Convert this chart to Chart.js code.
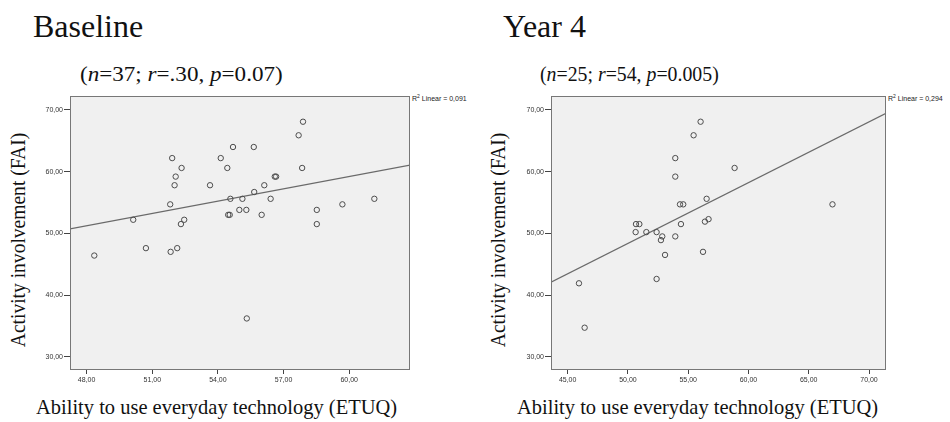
<!DOCTYPE html>
<html>
<head>
<meta charset="utf-8">
<script src="https://cdn.jsdelivr.net/npm/chart.js@4.4.0/dist/chart.umd.min.js"></script>
<style>
body{margin:0;background:#fff;width:950px;height:422px;position:relative;overflow:hidden;font-family:"Liberation Serif","Times New Roman",serif;color:#111}
.t{position:absolute;white-space:nowrap;line-height:1;transform-origin:0 0}
.big{font-size:32px}
.sub{font-size:22px}
.ax{font-size:21px;transform:scaleX(0.975)}
.rot{transform-origin:50% 50%;transform:translate(-50%,-50%) rotate(-90deg) scaleX(0.93)}
.r2{font-family:"Liberation Sans",Arial,sans-serif;font-size:7px;color:#222}
.r2 sup{font-size:5px;vertical-align:3px}
canvas{position:absolute}
</style>
</head>
<body>
<div class="t big" style="left:33px;top:10px">Baseline</div>
<div class="t big" style="left:503px;top:10px">Year 4</div>
<div class="t sub" style="left:80px;top:63px;transform:scaleX(1.05)">(<i>n</i>=37; <i>r</i>=.30, <i>p</i>=0.07)</div>
<div class="t sub" style="left:540px;top:63px;transform:scaleX(0.9)">(<i>n</i>=25; <i>r</i>=54, <i>p</i>=0.005)</div>
<div class="t ax rot" style="left:18px;top:240px">Activity involvement (FAI)</div>
<div class="t ax rot" style="left:498px;top:240px">Activity involvement (FAI)</div>
<div class="t ax" style="left:36px;top:397px">Ability to use everyday technology (ETUQ)</div>
<div class="t ax" style="left:517px;top:397px">Ability to use everyday technology (ETUQ)</div>
<div class="t r2" id="r2a" style="left:412px;top:94px"></div>
<div class="t r2" id="r2b" style="left:888px;top:94px"></div>
<canvas id="cBase" width="400" height="300" style="left:30px;top:90px"></canvas>
<canvas id="cYear4" width="400" height="300" style="left:511px;top:90px"></canvas>
<script>
// Baseline (n=37): ETUQ vs FAI
const baseX = [48.35, 50.13, 50.71, 51.84, 52.14, 51.82, 51.91, 52.34, 52.07, 52.02, 52.31, 52.46, 53.64, 54.13, 54.43, 54.69, 54.57, 54.47, 54.54, 54.98, 55.12, 55.30, 55.64, 55.66, 56.00, 56.12, 56.41, 56.60, 56.66, 57.69, 57.89, 57.85, 58.52, 58.52, 59.69, 61.15, 55.32];
const baseY = [46.4, 52.2, 47.6, 47.0, 47.6, 54.7, 62.2, 60.6, 59.2, 57.8, 51.5, 52.2, 57.8, 62.2, 60.6, 64.0, 55.6, 53.0, 53.0, 53.8, 55.6, 53.8, 64.0, 56.7, 53.0, 57.8, 55.6, 59.2, 59.2, 65.9, 68.1, 60.6, 53.8, 51.5, 54.7, 55.6, 36.2];

// Year 4 (n=25)
const y4X = [56.03, 55.45, 53.93, 53.93, 58.85, 56.53, 54.32, 54.59, 66.97, 50.67, 50.95, 54.40, 56.39, 56.69, 50.64, 51.53, 52.38, 52.85, 52.74, 53.93, 53.08, 56.23, 52.38, 45.94, 46.41];
const y4Y = [68.1, 65.9, 62.2, 59.2, 60.6, 55.6, 54.7, 54.7, 54.7, 51.5, 51.5, 51.5, 51.9, 52.3, 50.2, 50.2, 50.2, 49.5, 48.9, 49.5, 46.5, 47.0, 42.6, 41.9, 34.7];

// tick labels
const baseTicksX = [48, 51, 54, 57, 60];
const y4TicksX = [45, 50, 55, 60, 65, 70];
const ticksY = [30, 40, 50, 60, 70];
const r2Labels = ['0,091', '0,294'];

document.getElementById('r2a').innerHTML = 'R<sup>2</sup> Linear = ' + r2Labels[0];
document.getElementById('r2b').innerHTML = 'R<sup>2</sup> Linear = ' + r2Labels[1];

const fmt = v => v.toFixed(2).replace('.', ',');

// least squares fit line across the x axis
function fitLine(xs, ys, x0, x1) {
    const n = xs.length;
    const mx = xs.reduce((a, b) => a + b, 0) / n;
    const my = ys.reduce((a, b) => a + b, 0) / n;
    let sxy = 0, sxx = 0;
    for (let i = 0; i < n; i++) {
        sxy += (xs[i] - mx) * (ys[i] - my);
        sxx += (xs[i] - mx) * (xs[i] - mx);
    }
    const b = sxy / sxx;
    const a = my - b * mx;
    return [{x: x0, y: a + b * x0}, {x: x1, y: a + b * x1}];
}

const plotBox = {
    id: 'plotBox',
    beforeDraw(chart) {
        const {ctx, chartArea: a} = chart;
        ctx.save();
        ctx.fillStyle = '#f0f0f0';
        ctx.fillRect(a.left, a.top, a.width, a.height);
        ctx.restore();
    },
    afterDraw(chart) {
        const {ctx, chartArea: a} = chart;
        ctx.save();
        ctx.strokeStyle = '#777';
        ctx.lineWidth = 1;
        ctx.strokeRect(a.left + 0.5, a.top + 0.5, a.width - 1, a.height - 1);
        ctx.restore();
    }
};

function makeChart(id, xs, ys, xTicks, xMin, xMax, padRight) {
    const pts = xs.map((x, i) => ({x: x, y: ys[i]}));
    const tickFont = {family: '"Liberation Sans", Arial, sans-serif', size: 7};
    return new Chart(document.getElementById(id), {
        type: 'scatter',
        data: {
            datasets: [{
                data: pts,
                pointRadius: 2.7,
                pointBorderWidth: 1,
                pointBorderColor: '#4d4d4d',
                pointBackgroundColor: 'rgba(0,0,0,0)'
            }, {
                type: 'line',
                data: fitLine(xs, ys, xMin, xMax),
                borderColor: '#6a6a6a',
                borderWidth: 1.2,
                pointRadius: 0
            }]
        },
        options: {
            responsive: false,
            animation: false,
            devicePixelRatio: 1,
            layout: {padding: {top: 6, right: padRight, left: 0, bottom: 0}},
            plugins: {legend: {display: false}, tooltip: {enabled: false}},
            scales: {
                x: {
                    type: 'linear',
                    min: xMin,
                    max: xMax,
                    afterBuildTicks: ax => { ax.ticks = xTicks.map(v => ({value: v})); },
                    afterFit: ax => { ax.height = 20; },
                    border: {display: false},
                    grid: {drawOnChartArea: false, tickLength: 4, color: '#444'},
                    ticks: {font: tickFont, color: '#333', padding: 2, maxRotation: 0, callback: v => fmt(v)}
                },
                y: {
                    min: 27.84,
                    max: 72.27,
                    afterBuildTicks: ax => { ax.ticks = ticksY.map(v => ({value: v})); },
                    afterFit: ax => { ax.width = 40; },
                    border: {display: false},
                    grid: {drawOnChartArea: false, tickLength: 6, color: '#444'},
                    ticks: {font: tickFont, color: '#333', padding: 1, callback: v => fmt(v)}
                }
            }
        },
        plugins: [plotBox]
    });
}

makeChart('cBase', baseX, baseY, baseTicksX, 47.24, 62.78, 20);
makeChart('cYear4', y4X, y4Y, y4TicksX, 43.62, 71.41, 25);
</script>
</body>
</html>
